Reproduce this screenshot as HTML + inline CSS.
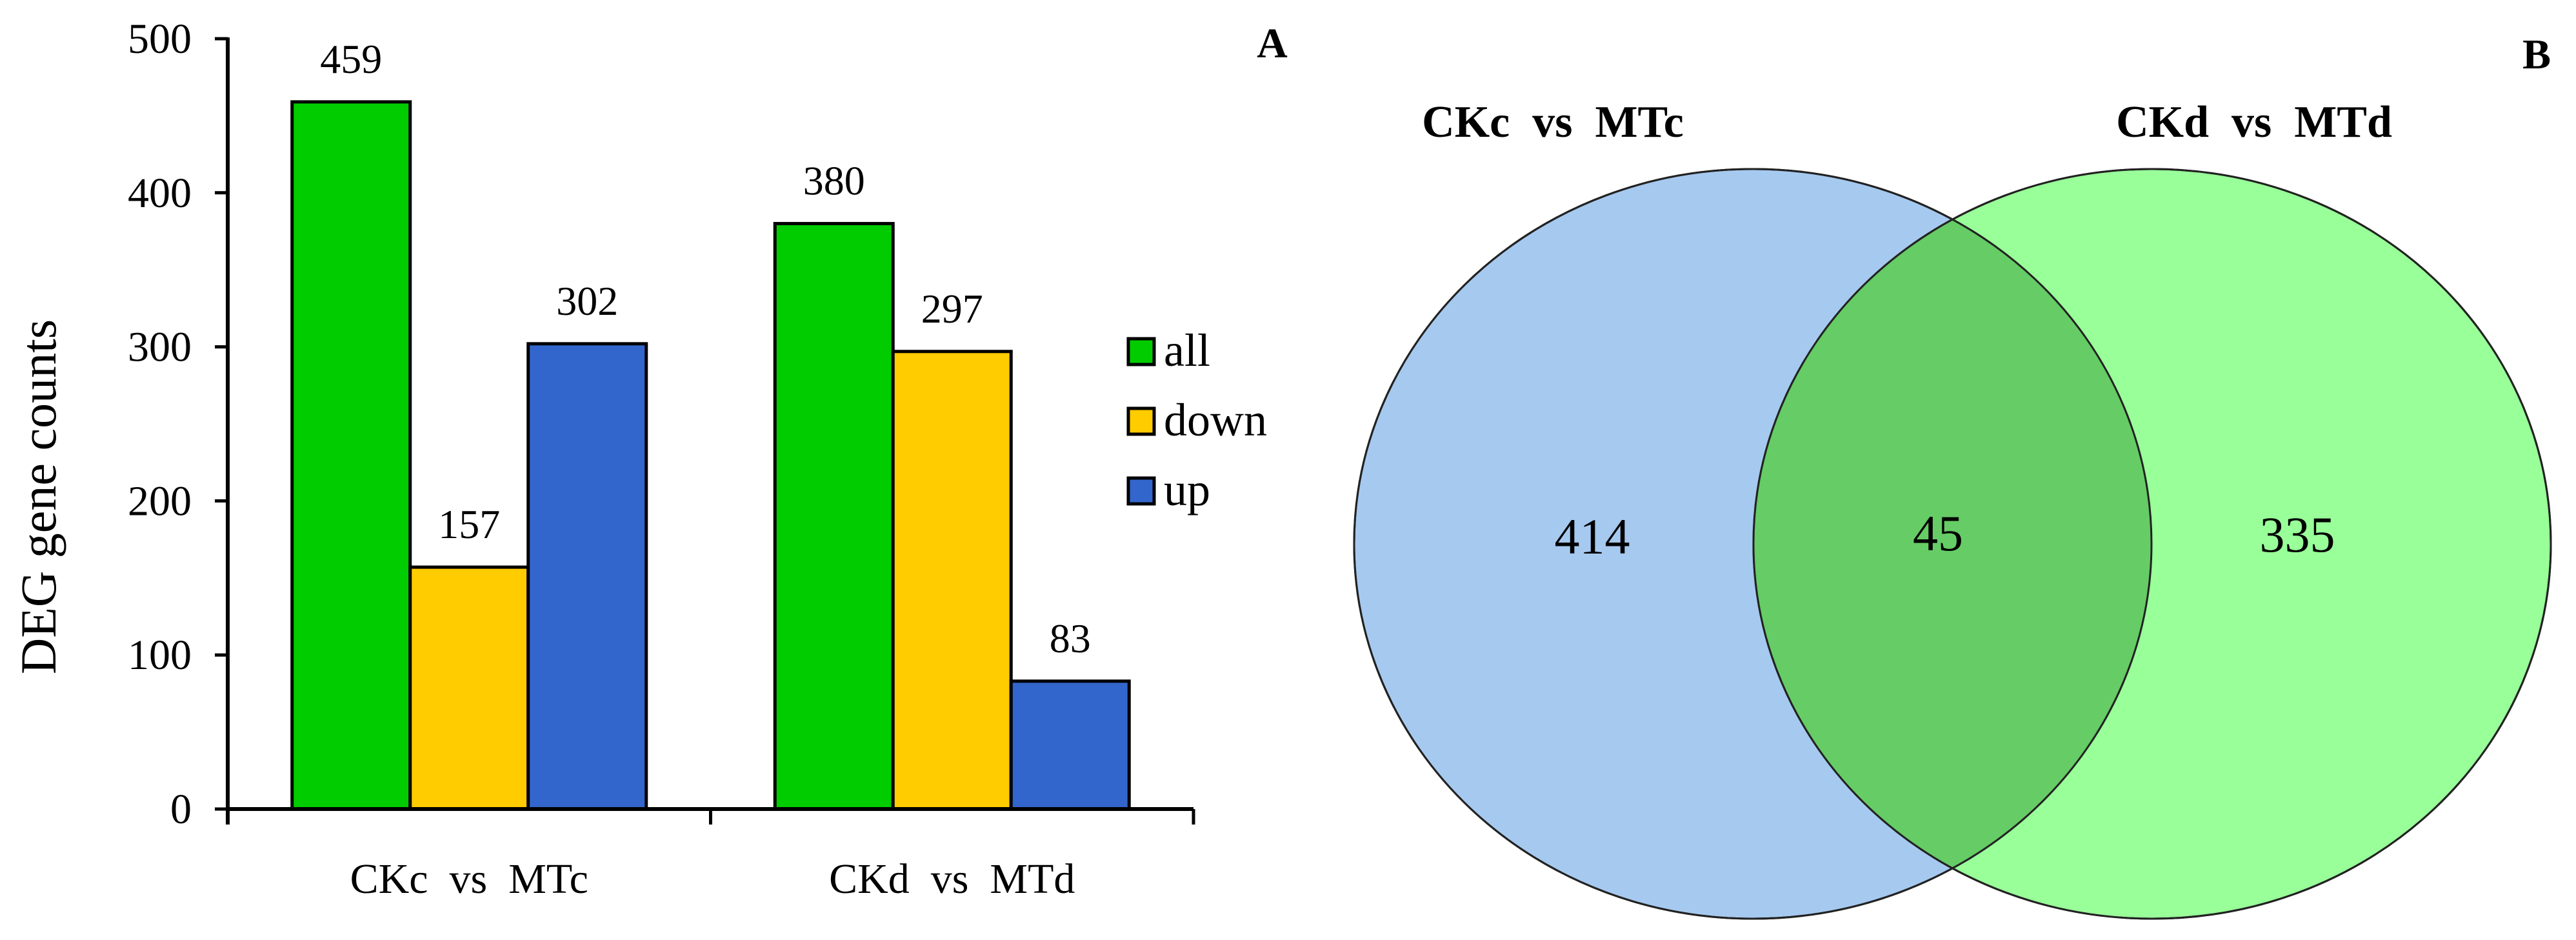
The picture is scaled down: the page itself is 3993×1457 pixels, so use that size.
<!DOCTYPE html>
<html><head><meta charset="utf-8"><style>
html,body{margin:0;padding:0;background:#fff;}
svg{display:block;font-family:"Liberation Serif",serif;}
</style></head><body>
<svg id="chart" width="3993" height="1457" viewBox="0 0 3993 1457">
<g id="barChart"></g>
<g id="venn">
  <ellipse cx="2717" cy="843" rx="618" ry="581" fill="#a6c9ef" stroke="#222" stroke-width="3"/>
  <ellipse cx="3336" cy="843" rx="618" ry="581" fill="#99ff99" stroke="#222" stroke-width="3"/>
  <clipPath id="clipL"><ellipse cx="2717" cy="843" rx="618" ry="581"/></clipPath>
  <ellipse cx="3336" cy="843" rx="618" ry="581" fill="#66cc66" clip-path="url(#clipL)"/>
  <ellipse cx="2717" cy="843" rx="618" ry="581" fill="none" stroke="#222" stroke-width="3"/>
  <ellipse cx="3336" cy="843" rx="618" ry="581" fill="none" stroke="#222" stroke-width="3"/>
  <text x="2407" y="212" font-size="70" text-anchor="middle" font-weight="bold">CKc&#160; vs&#160; MTc</text>
  <text x="3494" y="212" font-size="70" text-anchor="middle" font-weight="bold">CKd&#160; vs&#160; MTd</text>
  <text x="2468" y="858" font-size="78" text-anchor="middle">414</text>
  <text x="3004" y="853" font-size="78" text-anchor="middle">45</text>
  <text x="3561" y="855" font-size="78" text-anchor="middle">335</text>
  <text x="3932" y="106" font-size="66" text-anchor="middle" font-weight="bold">B</text>
</g>
</svg>
<script>
const categories = ["CKc  vs  MTc", "CKd  vs  MTd"];
const seriesNames = ["all", "down", "up"];
const seriesColors = ["#00cc00", "#ffcc00", "#3366cc"];
const allValues = [459, 380];
const downValues = [157, 297];
const upValues = [302, 83];
const yTicks = [0, 100, 200, 300, 400, 500];

const NS = "http://www.w3.org/2000/svg";
const g = document.getElementById("barChart");
function mk(tag, attrs, text) {
  const e = document.createElementNS(NS, tag);
  for (const k in attrs) e.setAttribute(k, attrs[k]);
  if (text !== undefined) e.textContent = text;
  g.appendChild(e);
  return e;
}
const x0 = 353, x1 = 1850, y0 = 1254, yTop = 60, yMax = 500;
function yScale(v) { return y0 - (v / yMax) * (y0 - yTop); }
const groupW = (x1 - x0) / categories.length;
const barW = 183;
function barX(ci, si) { return x0 + ci * groupW + (groupW - 3 * barW) / 2 + si * barW; }

const series = [allValues, downValues, upValues];
series.forEach((vals, si) => {
  vals.forEach((v, ci) => {
    const r = mk("rect", {x: barX(ci, si), y: yScale(v), width: barW, height: y0 - yScale(v), fill: seriesColors[si], stroke: "#000", "stroke-width": 5});
    
    
    const t = mk("text", {x: barX(ci, si) + barW / 2, y: yScale(v) - 45, "font-size": 64, "text-anchor": "middle"}, String(v));
    
    
  });
});
const ya = mk("line", {x1: x0, y1: yTop - 2, x2: x0, y2: y0 + 24, stroke: "#000", "stroke-width": 6});


const xa = mk("line", {x1: x0 - 3, y1: y0, x2: x1, y2: y0, stroke: "#000", "stroke-width": 6});


for (let i = 0; i <= categories.length; i++) {
  const xx = x0 + i * groupW;
  const tk = mk("line", {x1: xx, y1: y0, x2: xx, y2: y0 + 24, stroke: "#000", "stroke-width": 5});
  
  
}
yTicks.forEach(v => {
  const tk = mk("line", {x1: x0 - 20, y1: yScale(v), x2: x0, y2: yScale(v), stroke: "#000", "stroke-width": 5});
  
  
  const t = mk("text", {x: 297, y: yScale(v) + 22, "font-size": 66, "text-anchor": "end"}, String(v));
  
  
});
categories.forEach((c, ci) => {
  const t = mk("text", {x: x0 + (ci + 0.5) * groupW, y: 1384, "font-size": 66, "text-anchor": "middle", "xml:space": "preserve"}, c);
  t.style.whiteSpace = "pre";
  
  
});
const yt = mk("text", {x: 0, y: 0, "font-size": 78, "text-anchor": "middle", transform: "translate(86,770) rotate(-90)"}, "DEG gene counts");


seriesNames.forEach((n, i) => {
  const cy = 545 + i * 108;
  const r = mk("rect", {x: 1749, y: cy - 20, width: 40, height: 40, fill: seriesColors[i], stroke: "#000", "stroke-width": 5});
  
  
  const t = mk("text", {x: 1804, y: cy + 22, "font-size": 72}, n);
  
  
});
const a = mk("text", {x: 1972, y: 89, "font-size": 66, "font-weight": "bold", "text-anchor": "middle"}, "A");


</script>
</body></html>
